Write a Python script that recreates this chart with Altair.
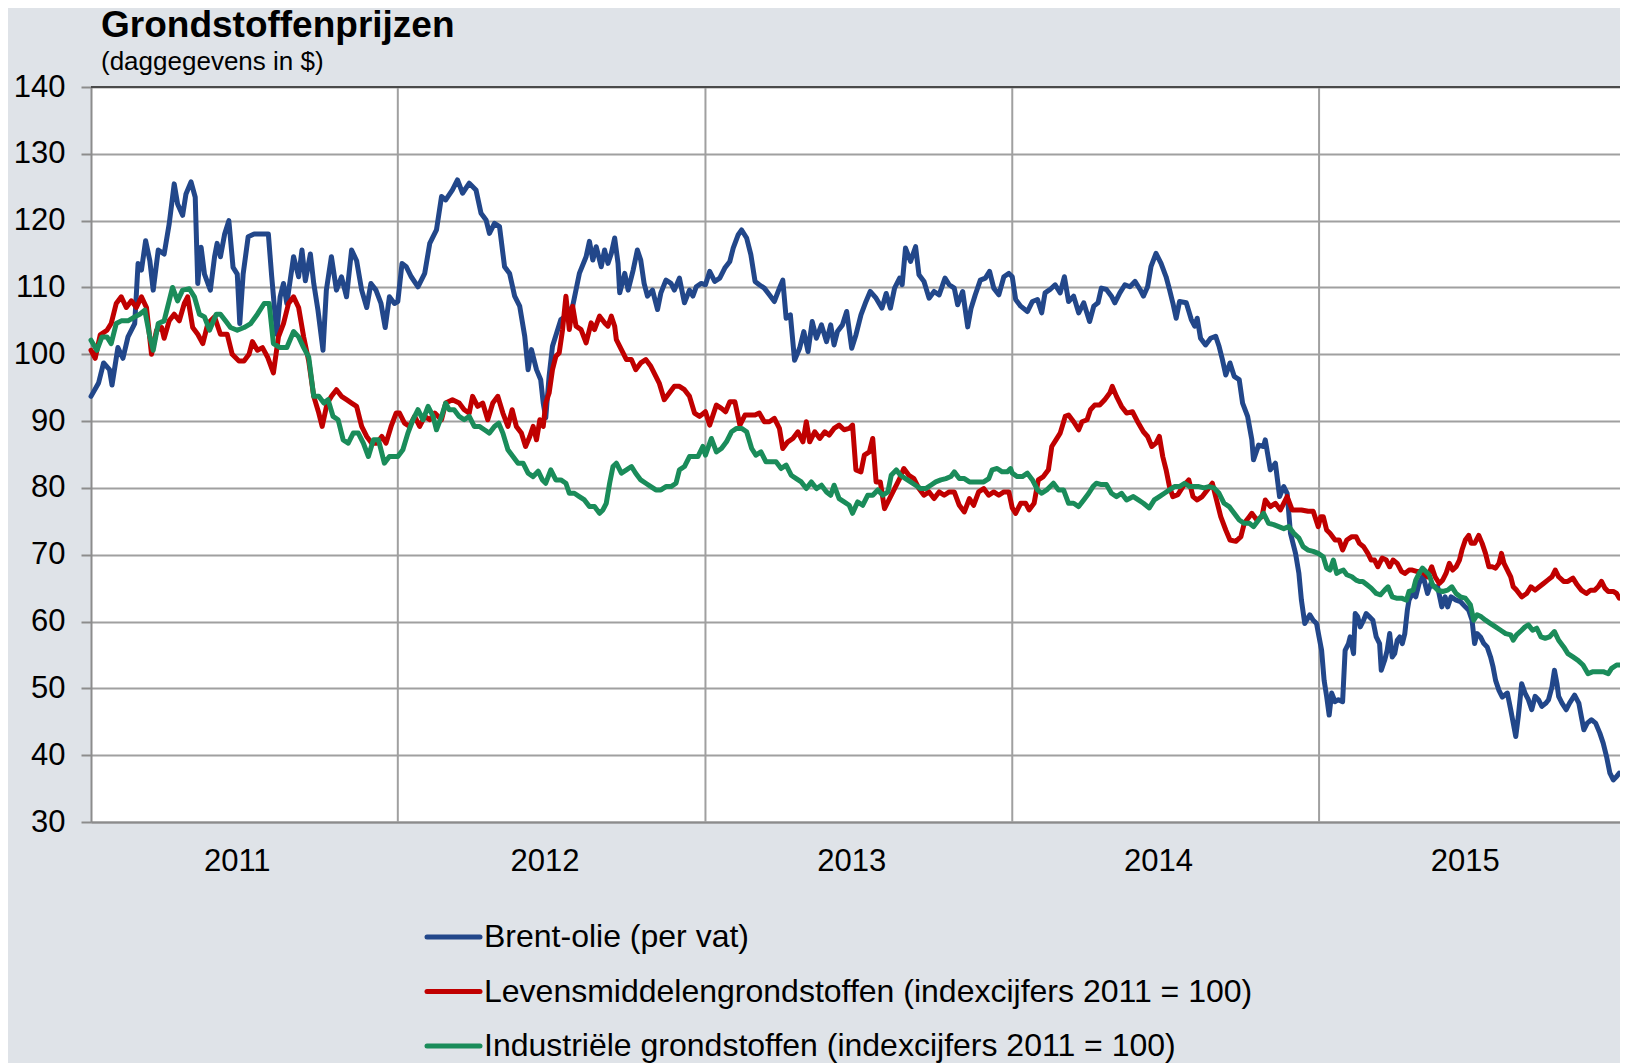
import altair as alt
import pandas as pd

title_text = "Grondstoffenprijzen"
subtitle_text = "(daggegevens in $)"
series_names = [
    "Brent-olie (per vat)",
    "Levensmiddelengrondstoffen (indexcijfers 2011 = 100)",
    "Industriële grondstoffen (indexcijfers 2011 = 100)",
]
series_colors = ["#22478A", "#C00000", "#1A8C5A"]
year_labels = ["2011", "2012", "2013", "2014", "2015"]
y_ticks = [30, 40, 50, 60, 70, 80, 90, 100, 110, 120, 130, 140]

# (days since 2011-01-01, value)
brent = [
    (0, 93.7), (9, 95.7), (15, 98.7), (22, 97.7), (25, 95.4), (32, 101.0), (38, 99.4), (44, 102.6),
    (52, 104.6), (56, 113.6), (60, 112.6), (65, 117.0), (70, 114.0), (74, 109.6), (80, 115.6),
    (87, 115.0), (93, 119.5), (99, 125.5), (103, 122.5), (109, 120.8), (113, 124.0), (119, 125.8),
    (124, 123.5), (127, 110.6), (131, 116.0), (135, 112.0), (142, 109.6), (147, 114.6), (150, 116.6),
    (154, 114.6), (159, 118.0), (164, 120.0), (169, 113.0), (174, 112.0), (177, 104.6), (181, 112.0),
    (187, 117.6), (194, 118.0), (202, 118.0), (211, 118.0), (215, 111.6), (221, 103.0), (225, 108.6),
    (229, 110.6), (233, 107.6), (241, 114.6), (247, 111.6), (251, 115.6), (255, 111.0), (261, 115.0),
    (265, 110.6), (270, 106.6), (276, 100.6), (280, 109.6), (286, 114.6), (292, 109.6), (298, 111.6),
    (304, 108.6), (310, 115.6), (316, 114.0), (322, 109.6), (328, 107.0), (333, 110.6), (339, 109.6),
    (345, 107.6), (350, 104.0), (355, 108.6), (361, 107.6),
    (365, 107.9), (370, 113.6), (375, 113.1), (381, 111.6), (389, 110.1), (397, 112.1), (403, 116.6),
    (411, 118.6), (417, 123.6), (422, 123.1), (430, 124.6), (436, 126.1), (442, 124.1), (450, 125.6),
    (458, 124.6), (464, 121.1), (470, 120.1), (474, 118.1), (480, 119.6), (486, 119.1), (492, 113.1),
    (498, 112.1), (504, 108.7), (510, 107.2), (516, 102.7), (520, 97.7), (524, 100.7), (530, 97.7),
    (535, 96.2), (538, 92.7), (541, 90.5), (545, 96.7), (549, 101.2), (559, 105.2), (565, 105.7),
    (573, 107.2), (581, 112.1), (589, 114.6), (593, 116.9), (597, 114.1), (601, 116.1), (607, 113.1),
    (611, 115.6), (615, 113.6), (619, 115.1), (623, 117.4), (627, 113.6), (629, 109.2), (635, 112.1),
    (639, 109.6), (645, 112.6), (650, 115.6), (654, 114.1), (658, 110.6), (662, 108.7), (668, 109.6),
    (674, 106.7), (678, 109.2), (684, 111.1), (690, 110.6), (694, 109.6), (700, 111.4), (706, 107.7),
    (712, 109.6), (716, 108.7), (720, 110.1), (726, 110.6),
    (731, 110.4), (736, 112.4), (742, 110.9), (748, 111.4), (754, 112.9), (760, 113.9), (764, 115.9),
    (770, 117.9), (774, 118.6), (780, 117.4), (785, 114.9), (790, 110.9), (795, 110.4), (801, 109.9),
    (807, 108.9), (813, 107.9), (819, 109.9), (823, 111.1), (827, 105.4), (832, 105.9), (837, 99.1),
    (843, 100.9), (848, 103.4), (853, 100.4), (858, 104.9), (863, 102.4), (869, 104.4), (875, 101.9),
    (880, 104.4), (884, 101.4), (888, 103.4), (894, 104.4), (899, 106.4), (905, 100.9), (910, 102.9),
    (916, 105.9), (922, 107.9), (927, 109.4), (934, 108.4), (941, 106.9), (946, 109.1), (951, 106.9),
    (956, 109.9), (962, 111.4), (965, 110.4), (969, 115.9), (975, 113.9), (981, 116.1), (985, 111.9),
    (991, 110.9), (997, 108.4), (1003, 109.4), (1009, 108.9), (1016, 111.4), (1021, 110.4),
    (1027, 109.9), (1031, 107.4), (1037, 109.4), (1043, 104.1), (1047, 106.9), (1052, 108.9),
    (1058, 111.1), (1064, 111.4), (1069, 112.4), (1074, 109.9), (1080, 108.9), (1086, 111.6),
    (1092, 112.1),
    (1096, 111.6), (1100, 108.2), (1106, 107.2), (1114, 106.4), (1120, 107.9), (1126, 108.2),
    (1131, 106.2), (1135, 109.2), (1141, 109.7), (1147, 110.4), (1153, 109.2), (1158, 111.6),
    (1163, 107.9), (1169, 108.7), (1175, 106.2), (1181, 107.7), (1188, 104.9), (1193, 107.2),
    (1198, 107.7), (1202, 109.9), (1208, 109.7), (1214, 108.7), (1218, 107.7), (1224, 109.2),
    (1230, 110.4), (1236, 110.1), (1242, 110.9), (1248, 109.7), (1252, 108.7), (1257, 110.1),
    (1261, 113.1), (1267, 115.1), (1273, 113.6), (1279, 111.6), (1283, 109.7), (1287, 107.7),
    (1291, 105.4), (1295, 107.9), (1303, 107.7), (1309, 105.2), (1313, 104.2), (1316, 105.4),
    (1320, 102.4), (1326, 101.4), (1332, 102.4), (1338, 102.7), (1342, 101.2), (1346, 99.2),
    (1350, 96.9), (1355, 98.7), (1360, 96.7), (1366, 96.2), (1370, 92.7), (1376, 90.7), (1381, 87.2),
    (1383, 84.2), (1389, 86.4), (1395, 86.2), (1397, 87.2), (1403, 82.7), (1409, 83.7), (1414, 78.7),
    (1419, 80.2), (1423, 79.2), (1427, 73.2), (1433, 70.2), (1437, 67.2), (1440, 63.2), (1444, 59.7),
    (1450, 61.0), (1454, 60.2), (1458, 59.7),
    (1461, 57.7), (1464, 55.7), (1467, 51.2), (1470, 48.8), (1473, 46.0), (1476, 49.3), (1480, 48.0),
    (1484, 48.3), (1489, 48.0), (1492, 55.7), (1496, 56.7), (1498, 57.7), (1502, 55.2), (1504, 61.2),
    (1507, 60.7), (1510, 59.2), (1514, 60.2), (1517, 61.2), (1521, 60.7), (1525, 60.2), (1529, 57.7),
    (1533, 56.7), (1535, 52.7), (1539, 54.2), (1542, 55.7), (1545, 58.2), (1548, 54.7), (1551, 55.2),
    (1554, 57.2), (1557, 57.7), (1560, 56.7), (1563, 58.2), (1566, 61.7), (1568, 63.2), (1572, 64.2),
    (1576, 63.7), (1580, 65.7), (1584, 66.7), (1586, 66.2), (1590, 64.2), (1594, 65.7), (1598, 65.2),
    (1602, 65.2), (1607, 62.2), (1611, 63.7), (1614, 62.2), (1618, 63.7), (1624, 63.2), (1629, 63.0),
    (1635, 62.2), (1639, 61.7), (1643, 60.2), (1646, 56.7), (1649, 58.2), (1653, 57.7), (1657, 56.7),
    (1661, 56.2), (1665, 54.7), (1668, 53.2), (1671, 51.2), (1675, 49.7), (1679, 48.7), (1685, 49.3),
    (1689, 46.8), (1692, 44.8), (1695, 42.8), (1698, 45.8), (1702, 50.7), (1706, 49.3), (1710, 48.3),
    (1714, 46.8), (1718, 48.8), (1722, 48.3), (1726, 47.3), (1731, 47.8), (1734, 48.3), (1738, 50.2),
    (1741, 52.7), (1744, 50.7), (1746, 48.8), (1750, 47.8), (1755, 46.8), (1759, 47.8), (1765, 49.0),
    (1770, 47.8), (1773, 45.8), (1776, 43.8), (1780, 44.8), (1785, 45.3), (1790, 44.8), (1795, 43.3),
    (1799, 41.8), (1803, 39.8), (1807, 37.3), (1811, 36.3), (1815, 36.8), (1818, 37.3),
]

food = [
    (0, 100.6), (5, 99.4), (11, 102.9), (19, 103.6), (24, 104.6), (30, 107.6), (36, 108.6), (42, 107.0),
    (48, 108.0), (54, 107.0), (60, 108.6), (66, 107.0), (72, 100.0), (78, 103.6), (84, 104.0),
    (87, 102.4), (93, 105.0), (99, 106.0), (105, 105.0), (111, 107.6), (115, 108.6), (121, 104.0),
    (127, 103.0), (133, 101.6), (139, 104.6), (147, 105.6), (154, 103.0), (162, 103.0), (168, 100.0),
    (176, 99.0), (182, 99.0), (188, 100.0), (192, 101.9), (198, 100.6), (204, 101.0), (210, 99.6),
    (217, 97.2), (223, 102.6), (229, 104.6), (235, 107.6), (241, 108.6), (247, 107.0), (253, 102.6),
    (259, 99.0), (265, 93.7), (271, 91.2), (275, 89.2), (281, 92.7), (286, 93.7), (292, 94.7),
    (298, 93.7), (304, 93.2), (310, 92.7), (316, 92.2), (322, 89.2), (328, 87.7), (334, 86.7),
    (340, 86.7), (346, 87.7), (351, 86.7), (357, 89.2), (363, 91.2),
    (367, 91.2), (373, 89.7), (379, 89.2), (385, 90.7), (391, 89.2), (397, 90.7), (403, 90.2),
    (409, 91.2), (417, 90.2), (422, 92.7), (430, 93.2), (438, 92.7), (444, 91.7), (450, 91.2),
    (454, 93.7), (460, 92.2), (466, 92.7), (472, 90.2), (478, 92.7), (484, 93.7), (490, 91.2),
    (496, 89.2), (501, 91.7), (506, 89.2), (512, 88.2), (517, 86.2), (522, 87.7), (526, 89.2),
    (530, 87.2), (534, 90.2), (538, 89.2), (541, 92.7), (545, 94.2), (549, 97.7), (553, 99.7),
    (557, 100.2), (561, 103.7), (565, 108.7), (569, 103.7), (573, 107.2), (577, 104.2), (583, 103.7),
    (589, 101.7), (595, 104.7), (599, 103.7), (605, 105.7), (611, 104.7), (615, 104.2), (619, 105.7),
    (623, 104.2), (625, 102.2), (631, 100.7), (637, 99.2), (643, 99.2), (648, 97.7), (654, 98.7),
    (660, 99.2), (666, 98.2), (672, 96.7), (676, 95.7), (682, 93.2), (688, 94.2), (694, 95.2),
    (700, 95.2), (706, 94.7), (712, 93.7), (718, 91.2), (724, 90.7),
    (731, 91.4), (736, 89.4), (744, 92.4), (750, 91.9), (755, 91.4), (760, 92.9), (766, 92.9),
    (772, 89.4), (778, 90.9), (784, 90.9), (790, 90.9), (795, 91.2), (801, 89.9), (807, 89.9),
    (813, 90.4), (819, 88.9), (823, 85.9), (829, 86.9), (835, 87.4), (841, 88.4), (847, 86.9),
    (851, 89.9), (855, 86.9), (861, 88.4), (867, 87.4), (873, 88.4), (878, 87.9), (884, 88.9),
    (890, 89.4), (896, 88.7), (902, 88.9), (906, 89.4), (910, 82.7), (916, 82.4), (920, 84.9),
    (926, 85.4), (930, 87.4), (934, 80.9), (939, 80.9), (944, 76.9), (950, 78.4), (956, 79.9),
    (962, 81.4), (967, 82.9), (973, 81.9), (979, 81.4), (985, 79.9), (991, 78.9), (997, 79.4),
    (1003, 78.4), (1009, 79.4), (1015, 78.9), (1021, 79.4), (1027, 79.4), (1033, 77.4), (1039, 76.4),
    (1045, 78.4), (1050, 77.4), (1056, 79.4), (1062, 79.9), (1068, 78.9), (1074, 79.4), (1080, 78.9),
    (1086, 79.4), (1092, 79.4), (1096, 77.0),
    (1100, 76.2), (1106, 77.7), (1112, 77.7), (1116, 76.7), (1122, 77.7), (1127, 81.2), (1133, 81.7),
    (1139, 82.7), (1143, 86.2), (1148, 87.2), (1153, 88.2), (1159, 90.7), (1163, 90.9), (1169, 89.9),
    (1175, 88.7), (1179, 89.9), (1185, 90.2), (1189, 91.7), (1194, 92.4), (1200, 92.4), (1206, 93.2),
    (1212, 94.2), (1215, 95.2), (1220, 93.7), (1226, 92.2), (1232, 91.2), (1239, 91.4), (1246, 89.7),
    (1252, 88.4), (1257, 87.7), (1262, 86.2), (1267, 86.7), (1271, 87.7), (1275, 84.7), (1279, 82.7),
    (1283, 80.2), (1287, 78.7), (1293, 79.0), (1299, 80.2), (1306, 81.2), (1311, 78.7), (1316, 78.2),
    (1322, 78.7), (1328, 79.7), (1334, 80.7), (1338, 78.7), (1344, 75.7), (1350, 73.7), (1355, 72.2),
    (1362, 72.0), (1368, 72.7), (1372, 74.7), (1378, 75.7), (1381, 76.2), (1387, 75.2), (1393, 75.7),
    (1397, 78.2), (1403, 77.2), (1409, 77.7), (1415, 76.7), (1423, 78.7), (1429, 76.7), (1435, 76.7),
    (1440, 76.7), (1448, 76.5), (1454, 76.5), (1460, 74.2),
    (1463, 75.7), (1466, 75.7), (1470, 73.7), (1474, 73.2), (1480, 72.2), (1485, 72.2), (1489, 70.7),
    (1494, 72.2), (1500, 72.7), (1505, 72.7), (1509, 71.7), (1514, 71.2), (1519, 70.2), (1523, 69.2),
    (1527, 69.2), (1531, 68.2), (1536, 69.5), (1541, 69.2), (1545, 68.2), (1549, 69.2), (1554, 68.7),
    (1559, 67.5), (1563, 67.2), (1568, 67.7), (1572, 67.7), (1577, 67.5), (1582, 67.5), (1586, 67.2),
    (1590, 66.7), (1595, 68.2), (1599, 66.7), (1604, 65.7), (1608, 66.2), (1612, 67.2), (1616, 68.7),
    (1620, 67.7), (1624, 68.2), (1628, 69.2), (1631, 70.7), (1635, 72.2), (1639, 72.9), (1642, 71.7),
    (1646, 71.7), (1651, 72.9), (1655, 71.7), (1659, 70.2), (1663, 68.2), (1667, 68.2), (1671, 68.0),
    (1675, 68.7), (1678, 70.2), (1681, 68.7), (1685, 67.7), (1689, 66.7), (1692, 65.2), (1696, 64.7),
    (1702, 63.7), (1708, 64.2), (1713, 65.2), (1718, 64.7), (1723, 65.2), (1728, 65.7), (1733, 66.2),
    (1738, 66.7), (1742, 67.7), (1746, 66.7), (1752, 66.0), (1757, 66.0), (1763, 66.5), (1768, 65.5),
    (1773, 64.7), (1779, 64.2), (1784, 64.7), (1789, 64.7), (1793, 65.2), (1797, 66.0), (1801, 65.0),
    (1805, 64.5), (1811, 64.5), (1815, 64.2), (1818, 63.5),
]

industrial = [
    (0, 102.1), (7, 100.6), (13, 102.6), (19, 102.6), (24, 101.6), (30, 104.6), (36, 105.0), (44, 105.0),
    (52, 105.6), (58, 106.0), (64, 106.6), (70, 102.6), (74, 100.6), (80, 104.6), (87, 105.0),
    (93, 108.0), (97, 110.0), (103, 108.0), (109, 109.6), (117, 109.8), (123, 108.6), (129, 106.0),
    (135, 105.6), (141, 103.6), (149, 106.0), (154, 106.0), (160, 105.0), (166, 104.0), (174, 103.6),
    (182, 104.0), (190, 104.6), (198, 106.0), (206, 107.6), (212, 107.6), (217, 101.6), (225, 101.0),
    (233, 101.0), (241, 103.4), (247, 102.6), (253, 101.0), (259, 99.6), (265, 93.7), (271, 93.7),
    (277, 92.7), (282, 93.2), (288, 90.7), (294, 90.2), (300, 87.2), (306, 86.7), (312, 88.2),
    (318, 88.2), (324, 86.7), (330, 84.7), (336, 87.2), (342, 87.2), (346, 85.2), (349, 83.7),
    (355, 84.7), (361, 84.7),
    (365, 84.7), (371, 85.7), (377, 88.2), (383, 90.2), (389, 91.7), (395, 90.2), (401, 92.2),
    (407, 90.7), (411, 88.7), (417, 90.7), (422, 92.7), (426, 91.7), (432, 91.7), (438, 90.7),
    (444, 90.2), (450, 90.7), (456, 89.2), (462, 89.2), (468, 88.7), (474, 88.2), (480, 89.2),
    (485, 89.7), (490, 88.2), (496, 85.7), (502, 84.7), (508, 83.7), (514, 83.7), (520, 82.2),
    (526, 81.7), (532, 82.5), (537, 81.2), (541, 80.7), (547, 82.7), (553, 81.2), (559, 81.2),
    (565, 80.7), (569, 79.2), (575, 79.2), (581, 78.7), (587, 78.2), (593, 77.2), (599, 77.2),
    (605, 76.2), (609, 76.7), (613, 77.7), (617, 80.7), (621, 83.2), (625, 83.7), (631, 82.2),
    (637, 82.7), (643, 83.2), (648, 82.2), (654, 81.2), (660, 80.7), (666, 80.2), (672, 79.7),
    (678, 79.7), (684, 80.2), (690, 80.2), (696, 80.7), (700, 82.7), (706, 83.2), (712, 84.7),
    (718, 84.7), (722, 84.7), (728, 86.2),
    (731, 84.9), (738, 87.4), (744, 85.4), (750, 85.9), (756, 86.9), (762, 88.4), (768, 88.9),
    (774, 88.9), (780, 88.4), (786, 85.9), (791, 84.9), (797, 85.4), (803, 83.9), (809, 83.9),
    (815, 83.9), (821, 82.9), (827, 83.4), (833, 81.9), (839, 81.4), (845, 80.9), (851, 79.9),
    (857, 80.9), (863, 79.9), (869, 80.4), (875, 79.4), (880, 78.9), (884, 80.4), (890, 78.4),
    (896, 77.9), (902, 77.4), (906, 76.2), (912, 77.9), (918, 77.4), (924, 78.9), (930, 78.9),
    (936, 79.7), (942, 78.9), (948, 79.4), (952, 81.9), (958, 82.7), (963, 81.9), (969, 81.4),
    (975, 80.9), (981, 80.4), (987, 79.9), (993, 79.9), (999, 80.4), (1005, 80.9), (1011, 81.2),
    (1017, 81.4), (1023, 81.7), (1027, 82.4), (1033, 81.4), (1039, 81.4), (1045, 80.9), (1050, 80.9),
    (1056, 80.9), (1062, 80.9), (1068, 81.4), (1072, 82.7), (1078, 82.9), (1084, 82.4), (1090, 82.4),
    (1094, 82.9),
    (1096, 82.2), (1102, 81.7), (1108, 81.7), (1114, 82.2), (1120, 81.2), (1126, 79.7), (1131, 79.2),
    (1137, 79.7), (1145, 80.7), (1151, 79.7), (1157, 79.7), (1163, 77.7), (1169, 77.7), (1175, 77.2),
    (1181, 78.2), (1187, 79.2), (1192, 80.2), (1196, 80.7), (1202, 80.5), (1208, 80.5), (1214, 79.2),
    (1220, 78.7), (1226, 79.2), (1232, 78.2), (1240, 78.7), (1246, 78.2), (1252, 77.7), (1259, 77.0),
    (1265, 78.2), (1271, 78.7), (1277, 79.2), (1283, 79.7), (1289, 80.2), (1295, 80.2), (1301, 80.7),
    (1307, 80.2), (1313, 80.2), (1318, 80.2), (1324, 80.0), (1330, 80.2), (1336, 80.0), (1342, 79.2),
    (1348, 77.7), (1354, 77.2), (1360, 76.2), (1366, 75.2), (1372, 74.7), (1378, 74.7), (1383, 74.2),
    (1389, 75.2), (1395, 76.2), (1401, 74.7), (1407, 74.5), (1413, 74.2), (1419, 73.9), (1425, 74.2),
    (1431, 73.2), (1437, 72.5), (1442, 71.2), (1448, 70.7), (1454, 70.5), (1460, 70.2),
    (1466, 69.7), (1470, 68.0), (1474, 67.7), (1478, 69.2), (1482, 67.2), (1486, 67.5), (1490, 67.7),
    (1494, 67.0), (1500, 66.7), (1505, 66.2), (1509, 66.0), (1513, 66.0), (1518, 65.5), (1523, 65.0),
    (1529, 64.2), (1534, 64.0), (1539, 64.7), (1543, 65.2), (1548, 63.7), (1553, 63.5), (1559, 63.5),
    (1565, 63.2), (1568, 64.5), (1573, 64.7), (1576, 66.2), (1580, 67.2), (1584, 68.0), (1588, 67.5),
    (1592, 67.0), (1596, 65.5), (1602, 64.7), (1608, 64.5), (1614, 64.7), (1619, 65.2), (1624, 64.2),
    (1629, 63.7), (1635, 63.5), (1641, 62.5), (1645, 60.2), (1649, 61.0), (1654, 60.7), (1659, 60.2),
    (1665, 59.7), (1671, 59.2), (1677, 58.7), (1683, 58.2), (1689, 58.0), (1692, 57.2), (1696, 58.0),
    (1702, 58.7), (1706, 59.2), (1710, 59.5), (1715, 58.7), (1720, 59.0), (1725, 57.7), (1730, 57.5),
    (1735, 57.7), (1741, 58.5), (1746, 57.2), (1752, 56.2), (1757, 55.2), (1763, 54.7), (1769, 54.2),
    (1775, 53.5), (1781, 52.2), (1787, 52.5), (1793, 52.5), (1799, 52.5), (1805, 52.2), (1809, 53.0),
    (1815, 53.5), (1818, 53.5),
]

START = pd.Timestamp("2011-01-01")
FONT = "Liberation Sans"
PLOT_W = 1529
PLOT_H = 735


def frame(pairs, name):
    return pd.DataFrame({
        "date": [START + pd.Timedelta(days=d) for d, _ in pairs],
        "value": [v for _, v in pairs],
        "series": name,
    })


x_scale = alt.Scale(
    domain=[alt.DateTime(year=2011, month=1, date=1), alt.DateTime(year=2015, month=12, date=25)],
    nice=False,
)
y_scale = alt.Scale(domain=[30, 140], nice=False, zero=False)

y_axis = alt.Axis(
    values=y_ticks, title=None, labelFont=FONT, labelFontSize=31, labelColor="black",
    tickSize=10, tickColor="#8C8C8C", tickWidth=2, domainColor="#8C8C8C", domainWidth=2,
    grid=True, gridColor="#A0A0A0", gridWidth=2, labelPadding=16,
)
x_axis = alt.Axis(labels=False, ticks=False, grid=False, title=None,
                  domainColor="#8C8C8C", domainWidth=2)

years_df = pd.DataFrame({"date": pd.to_datetime([f"{y}-01-01" for y in year_labels[1:]])})
vrules = alt.Chart(years_df).mark_rule(color="#A0A0A0", strokeWidth=2).encode(
    x=alt.X("date:T", scale=x_scale, axis=x_axis)
)

top_df = pd.DataFrame({"v": [max(y_ticks)]})
top_rule = alt.Chart(top_df).mark_rule(color="#4A4A4A", strokeWidth=2).encode(
    y=alt.Y("v:Q", scale=y_scale, axis=y_axis)
)

line_layers = []
for pairs, name, color in zip([brent, food, industrial], series_names, series_colors):
    line_layers.append(
        alt.Chart(frame(pairs, name)).mark_line(
            color=color, strokeWidth=5, strokeJoin="round", strokeCap="round"
        ).encode(
            x=alt.X("date:T", scale=x_scale, axis=x_axis),
            y=alt.Y("value:Q", scale=y_scale, axis=y_axis),
        )
    )

label_df = pd.DataFrame({
    "date": pd.to_datetime([f"{y}-06-24" for y in year_labels]),
    "label": year_labels,
})
year_text = alt.Chart(label_df).mark_text(
    font=FONT, fontSize=31, color="black", baseline="middle", align="center"
).encode(
    x=alt.X("date:T", scale=x_scale, axis=x_axis),
    y=alt.value(PLOT_H + 40),
    text="label:N",
)

one = pd.DataFrame({"a": [0]})
title_layer = alt.Chart(one).mark_text(
    text=title_text, font=FONT, fontSize=37, fontWeight="bold", color="black",
    align="left", baseline="alphabetic",
).encode(x=alt.value(10), y=alt.value(-50))
subtitle_layer = alt.Chart(one).mark_text(
    text=subtitle_text, font=FONT, fontSize=26, color="black",
    align="left", baseline="alphabetic",
).encode(x=alt.value(10), y=alt.value(-17))

legend_layers = []
for i, (name, color) in enumerate(zip(series_names, series_colors)):
    yy = 850 + 54.5 * i
    legend_layers.append(
        alt.Chart(one).mark_rule(color=color, strokeWidth=5, strokeCap="round").encode(
            x=alt.value(336), x2=alt.value(389), y=alt.value(yy)
        )
    )
    legend_layers.append(
        alt.Chart(one).mark_text(
            text=name, font=FONT, fontSize=32, color="black", align="left", baseline="middle"
        ).encode(x=alt.value(393), y=alt.value(yy))
    )

chart = alt.layer(
    vrules, *line_layers, top_rule, year_text, title_layer, subtitle_layer, *legend_layers
).properties(
    width=PLOT_W,
    height=PLOT_H,
    autosize=alt.AutoSizeParams(type="none"),
    padding={"left": 83, "top": 79, "right": 0, "bottom": 241},
).configure(
    background="#DFE3E8",
    font=FONT,
).configure_view(
    fill="white",
    strokeWidth=0,
)

chart.save("out.html", embed_options={"renderer": "svg", "actions": False})
